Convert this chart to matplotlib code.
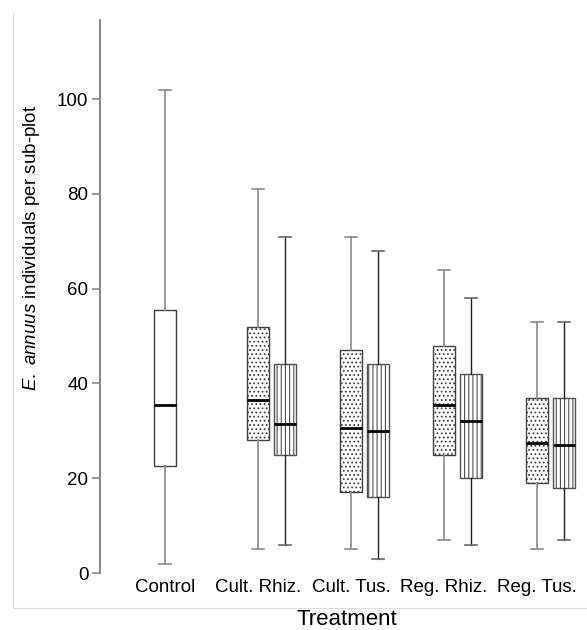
import matplotlib
matplotlib.use("Agg")
import matplotlib.pyplot as plt
from matplotlib.lines import Line2D

plt.rcParams['font.family'] = ['Liberation Sans', 'DejaVu Sans']
plt.rcParams['mathtext.fontset'] = 'custom'
plt.rcParams['mathtext.it'] = 'Liberation Sans:italic'
plt.rcParams['mathtext.rm'] = 'Liberation Sans'
plt.rcParams['hatch.linewidth'] = 0.8

categories = ['Control', 'Cult. Rhiz.', 'Cult. Tus.', 'Reg. Rhiz.', 'Reg. Tus.']

# Control (single box)
control_stats = dict(whislo=2, q1=22.6, med=35.4, q3=55.5, whishi=102)

# Dotted series (categories 2-5)
dotted_whislo = [5, 5, 7, 5]
dotted_q1 = [28.0, 17.0, 25.0, 19.0]
dotted_med = [36.5, 30.5, 35.5, 27.5]
dotted_q3 = [52.0, 47.0, 48.0, 37.0]
dotted_whishi = [81, 71, 64, 53]

# Striped series (categories 2-5)
striped_whislo = [6, 3, 6, 7]
striped_q1 = [25.0, 16.0, 20.0, 18.0]
striped_med = [31.5, 30.0, 32.0, 27.0]
striped_q3 = [44.0, 44.0, 42.0, 37.0]
striped_whishi = [71, 68, 58, 53]

yticks = [0, 20, 40, 60, 80, 100]

W, H = 587, 630
fig = plt.figure(figsize=(W / 100, H / 100), dpi=100)
ax = fig.add_axes([99.5 / W, (H - 573) / H, (W - 99.5) / W, (573 - 20) / H])

offset = 0.29
bw = 0.237
capw = 0.13

def mk(lo, q1, med, q3, hi):
    return dict(whislo=lo, q1=q1, med=med, q3=q3, whishi=hi, fliers=[])

gray = '#8a8a8a'
edge = '#404040'

# control
st = dict(control_stats); st['fliers'] = []
ax.bxp([st], positions=[0], widths=bw, capwidths=[capw], patch_artist=True,
       showfliers=False,
       boxprops=dict(facecolor='white', edgecolor=edge, linewidth=1.0),
       whiskerprops=dict(color=gray, linewidth=1.2),
       capprops=dict(color=gray, linewidth=1.2),
       medianprops=dict(color='black', linewidth=2.0, solid_capstyle='butt'))

dstats = [mk(*v) for v in zip(dotted_whislo, dotted_q1, dotted_med, dotted_q3, dotted_whishi)]
sstats = [mk(*v) for v in zip(striped_whislo, striped_q1, striped_med, striped_q3, striped_whishi)]
pos_d = [1, 2, 3, 4]
pos_s = [p + offset for p in pos_d]

ax.bxp(dstats, positions=pos_d, widths=bw, capwidths=[capw] * 4, patch_artist=True,
       showfliers=False,
       boxprops=dict(facecolor='white', edgecolor=edge, linewidth=1.0, hatch='....'),
       whiskerprops=dict(color=gray, linewidth=1.2),
       capprops=dict(color=gray, linewidth=1.2),
       medianprops=dict(color='black', linewidth=2.0, solid_capstyle='butt'))

ax.bxp(sstats, positions=pos_s, widths=bw, capwidths=[capw] * 4, patch_artist=True,
       showfliers=False,
       boxprops=dict(facecolor='white', edgecolor='#505050', linewidth=1.0, hatch='||||'),
       whiskerprops=dict(color='#222222', linewidth=1.0),
       capprops=dict(color='#666666', linewidth=1.2),
       medianprops=dict(color='black', linewidth=2.0, solid_capstyle='butt'))

ax.set_xlim((99.5 - 165) / 93, (587 - 165) / 93)
ax.set_ylim(0, 116.7)
ax.set_yticks(yticks)
ax.set_yticklabels([str(v) for v in yticks], fontsize=13.5)
ax.set_xticks(range(len(categories)))
ax.set_xticklabels(categories, fontsize=13.5)
ax.tick_params(axis='x', length=0, pad=4)
ax.tick_params(axis='y', length=6, width=1.2, color=gray, pad=2)
for s in ['top', 'right', 'bottom']:
    ax.spines[s].set_visible(False)
ax.spines['left'].set_color(gray)
ax.spines['left'].set_linewidth(1.5)
ax.patch.set_alpha(0)

fig.text(347 / W, 1 - 625 / H, 'Treatment', fontsize=16, ha='center', va='baseline')
fig.text(36 / W, 1 - 248 / H, r'$\it{E.\ annuus}$ individuals per sub-plot', fontsize=13.5,
         rotation=90, rotation_mode='anchor', ha='center', va='baseline')

fig.add_artist(Line2D([13 / W, 13 / W], [1 - 13 / H, 1 - 608 / H], color='#dddddd', linewidth=0.8))
fig.add_artist(Line2D([13 / W, 1.0], [1 - 608 / H, 1 - 608 / H], color='#dddddd', linewidth=0.8))

fig.savefig('out.png', dpi=100, facecolor='white')
